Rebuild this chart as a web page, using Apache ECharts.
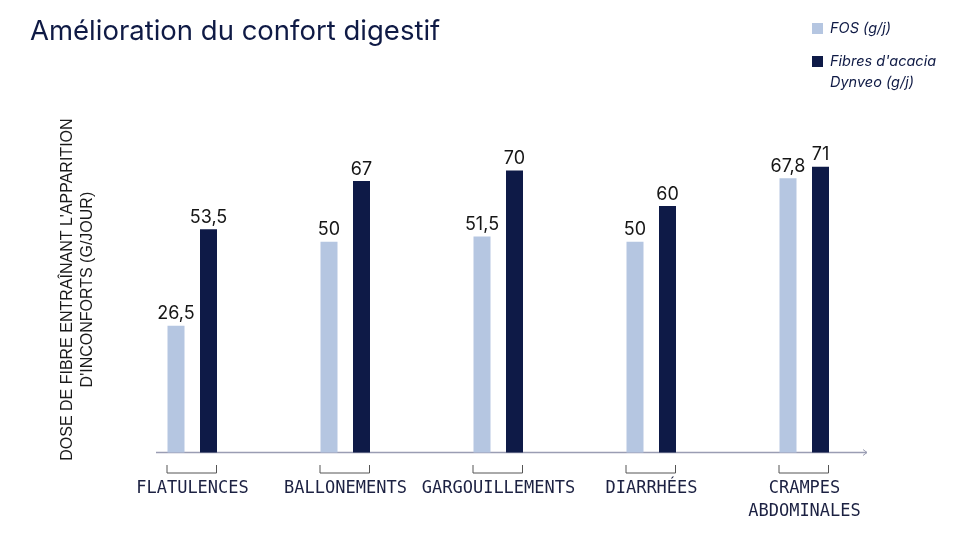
<!DOCTYPE html>
<html>
<head>
<meta charset="utf-8">
<script src="https://cdn.jsdelivr.net/npm/echarts@6/dist/echarts.min.js"></script>
<style>
html, body { margin: 0; padding: 0; background: #fff; }
#chart { width: 960px; height: 540px; }
</style>
</head>
<body>
<div id="chart"></div>
<script>
var categories = ['FLATULENCES', 'BALLONEMENTS', 'GARGOUILLEMENTS', 'DIARRHÉES', 'CRAMPES\nABDOMINALES'];
var fosValues = [26.5, 50, 51.5, 50, 67.8];
var dynveoValues = [53.5, 67, 70, 60, 71];
var seriesNames = ['FOS (g/j)', "Fibres d'acacia Dynveo (g/j)"];
var yMin = -9;
var yMax = 80;

var fosColor = '#b5c6e1';
var dynveoColor = '#0e1a47';
var navy = '#0f1a45';

function fmt(v) {
	return String(v).replace('.', ',');
}

function toPairs(values) {
	return values.map(function(v, i) { return [i, v]; });
}

// bars go from the bottom of the grid up to the value
function barRenderer(offset) {
	return function(params, api) {
		var idx = api.value(0);
		var val = api.value(1);
		var top = api.coord([idx, val]);
		var bottom = params.coordSys.y + params.coordSys.height;
		var w = 17;
		var x = top[0] + offset - w / 2;
		return {
			type: 'group',
			children: [{
				type: 'rect',
				shape: { x: x, y: top[1], width: w, height: bottom - top[1] },
				style: { fill: api.visual('color') }
			}, {
				type: 'text',
				style: {
					text: fmt(val),
					x: x + w / 2,
					y: top[1] - 3,
					align: 'center',
					verticalAlign: 'bottom',
					fontFamily: 'Inter',
					fontSize: 18,
					fill: '#161616'
				}
			}]
		};
	};
}

function bracketRenderer(params, api) {
	var c = api.coord([api.value(0), yMin]);
	var x0 = c[0] - 25.5, x1 = c[0] + 24;
	var y0 = c[1] + 12.5, y1 = c[1] + 20.5;
	return {
		type: 'polyline',
		shape: { points: [[x0, y0], [x0, y1], [x1, y1], [x1, y0]] },
		style: { stroke: '#555', lineWidth: 1, fill: null }
	};
}

var myChart = echarts.init(document.getElementById('chart'));

var option = {
	animation: false,
	title: {
		text: 'Amélioration du confort digestif',
		left: 25,
		top: 13,
		textStyle: { fontFamily: 'Inter', fontWeight: 400, fontSize: 27.5, color: navy }
	},
	grid: { left: 116, right: 79, top: 134.7, bottom: 87.5 },
	xAxis: {
		type: 'category',
		data: categories,
		axisLine: { show: false },
		axisTick: { show: false },
		axisLabel: {
			interval: 0,
			margin: 25,
			fontFamily: 'DejaVu Sans Mono',
			fontSize: 17,
			lineHeight: 23,
			color: '#1c2142'
		}
	},
	yAxis: {
		type: 'value',
		min: yMin,
		max: yMax,
		name: "DOSE DE FIBRE ENTRAÎNANT L'APPARITION\nD'INCONFORTS (G/JOUR)",
		nameLocation: 'middle',
		nameRotate: 90,
		nameGap: 18,
		nameTextStyle: {
			fontFamily: 'Liberation Sans', fontSize: 16, lineHeight: 20, color: '#1a1a1a', align: 'center',
			padding: [0, 0, 0, 8]
		},
		axisLine: { show: false },
		axisTick: { show: false },
		axisLabel: { show: false },
		splitLine: { show: false }
	},
	graphic: [{
		type: 'line',
		shape: { x1: 156, y1: 452.5, x2: 867, y2: 452.5 },
		style: { stroke: '#9a9db3', lineWidth: 1.5 }
	}, {
		type: 'polyline',
		shape: { points: [[863, 449.5], [867, 452.5], [863, 455.5]] },
		style: { stroke: '#9a9db3', lineWidth: 1, fill: null }
	}, {
		type: 'rect',
		shape: { x: 812, y: 23, width: 11, height: 11 },
		style: { fill: fosColor }
	}, {
		type: 'text',
		style: { text: seriesNames[0], x: 830, y: 28.5, verticalAlign: 'middle', font: 'italic 14.5px Inter', fill: navy }
	}, {
		type: 'rect',
		shape: { x: 812, y: 56, width: 11, height: 11 },
		style: { fill: dynveoColor }
	}, {
		type: 'text',
		style: { text: "Fibres d'acacia\nDynveo (g/j)", x: 830, y: 51, lineHeight: 21, verticalAlign: 'top', font: 'italic 14.5px Inter', fill: navy }
	}],
	series: [{
		name: seriesNames[0],
		type: 'custom',
		clip: false,
		itemStyle: { color: fosColor },
		encode: { x: 0, y: 1 },
		data: toPairs(fosValues),
		renderItem: barRenderer(-16.5)
	}, {
		name: seriesNames[1],
		type: 'custom',
		clip: false,
		itemStyle: { color: dynveoColor },
		encode: { x: 0, y: 1 },
		data: toPairs(dynveoValues),
		renderItem: barRenderer(16)
	}, {
		name: 'brackets',
		type: 'custom',
		clip: false,
		silent: true,
		encode: { x: 0 },
		data: categories.map(function(c, i) { return [i]; }),
		renderItem: bracketRenderer
	}]
};

myChart.setOption(option);
</script>
</body>
</html>
